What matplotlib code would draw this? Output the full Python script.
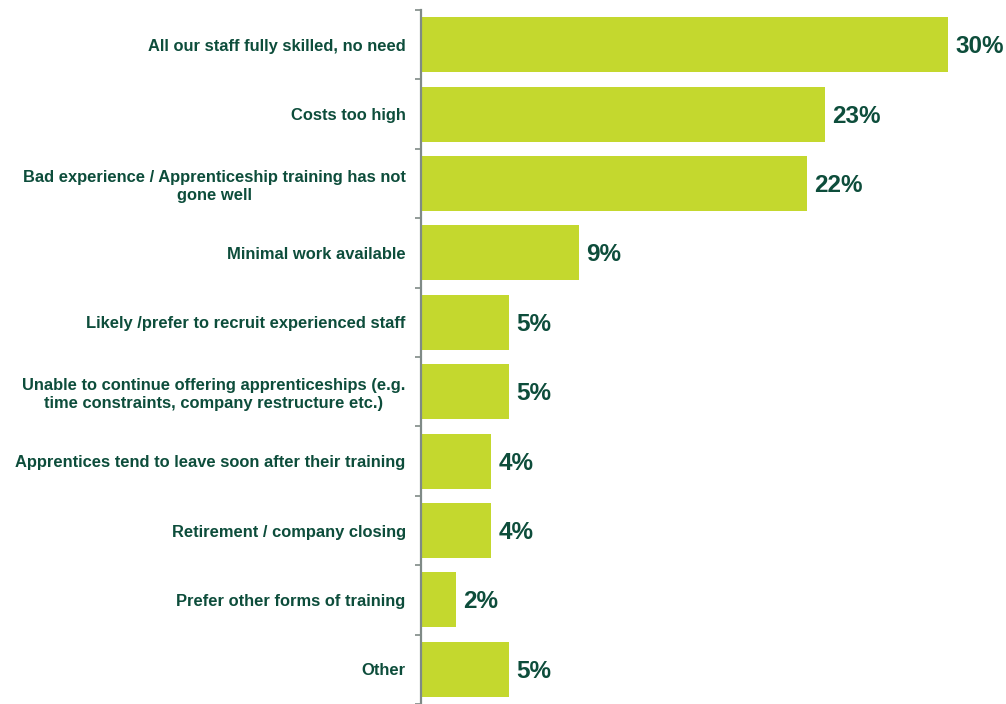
import matplotlib
matplotlib.use("Agg")
import matplotlib.pyplot as plt
import numpy as np

categories = [
    "All our staff fully skilled, no need",
    "Costs too high",
    "Bad experience / Apprenticeship training has not\ngone well",
    "Minimal work available",
    "Likely /prefer to recruit experienced staff",
    "Unable to continue offering apprenticeships (e.g.\ntime constraints, company restructure etc.)",
    "Apprentices tend to leave soon after their training",
    "Retirement / company closing",
    "Prefer other forms of training",
    "Other",
]
values = [30, 23, 22, 9, 5, 5, 4, 4, 2, 5]
value_labels = ["30%", "23%", "22%", "9%", "5%", "5%", "4%", "4%", "2%", "5%"]

bar_color = "#C4D82E"
text_color = "#0D4D3B"
axis_color = "#7F8A86"

plt.rcParams['font.family'] = ['Liberation Sans', 'DejaVu Sans']

W, H = 1006, 704
fig = plt.figure(figsize=(W / 100, H / 100), dpi=100)
ax = fig.add_axes([421 / W, 0, (W - 421) / W, 694 / H])

y = np.arange(len(categories))
ax.barh(y, values, height=0.79, color=bar_color, edgecolor="none")
ax.set_ylim(len(categories) - 0.5, -0.5)
ax.set_xlim(0, 33.3)

for yi, v, lab in zip(y, values, value_labels):
    ax.annotate(lab, xy=(v, yi), xytext=(5, -1.5), textcoords="offset points",
                ha="left", va="center", fontsize=17.5, fontweight="bold",
                color=text_color)

ax.set_yticks(y)
ax.set_yticklabels(categories, fontsize=11.9, fontweight="bold",
                   color=text_color, multialignment="center",
                   linespacing=1.25)
ax.tick_params(axis="y", which="major", length=0, pad=11)
ax.set_yticks(np.arange(-0.5, len(categories), 1.0), minor=True)
ax.tick_params(axis="y", which="minor", length=4, width=1.2, color=axis_color)

ax.set_xticks([])
for s in ["top", "right", "bottom"]:
    ax.spines[s].set_visible(False)
ax.spines["left"].set_color(axis_color)
ax.spines["left"].set_linewidth(1.6)

fig.savefig("out.png", dpi=100)
